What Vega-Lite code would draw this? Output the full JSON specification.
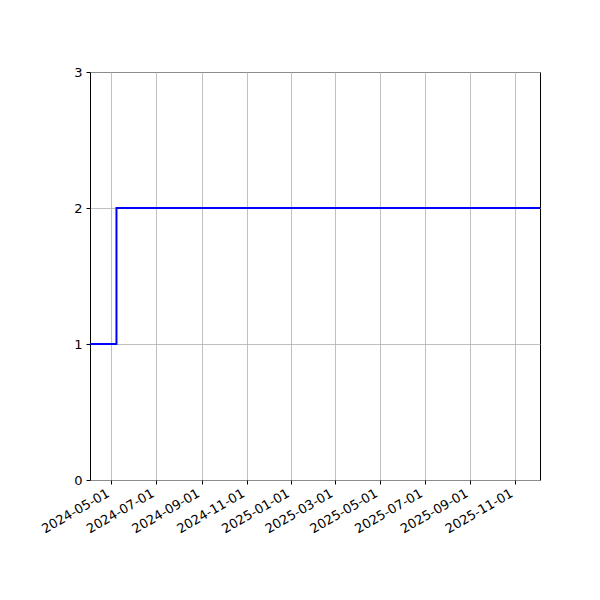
{
  "$schema": "https://vega.github.io/schema/vega-lite/v6.json",
  "width": 450,
  "height": 408,
  "autosize": {"type": "none"},
  "padding": {"left": 90, "top": 72, "right": 60, "bottom": 120},
  "background": "white",
  "data": {
    "values": [
      {"date": "2024-04-02", "value": 1},
      {"date": "2024-05-08", "value": 2},
      {"date": "2025-12-06", "value": 2}
    ]
  },
  "mark": {"type": "line", "interpolate": "step-after", "color": "#0000ff", "strokeWidth": 2, "clip": true},
  "encoding": {
    "x": {
      "field": "date",
      "type": "temporal",
      "title": null,
      "scale": {
        "type": "utc",
        "domain": [
          {"year": 2024, "month": 4, "date": 2, "utc": true},
          {"year": 2025, "month": 12, "date": 5, "utc": true}
        ]
      },
      "axis": {
        "values": [
          {"year": 2024, "month": 5, "date": 1, "utc": true},
          {"year": 2024, "month": 7, "date": 1, "utc": true},
          {"year": 2024, "month": 9, "date": 1, "utc": true},
          {"year": 2024, "month": 11, "date": 1, "utc": true},
          {"year": 2025, "month": 1, "date": 1, "utc": true},
          {"year": 2025, "month": 3, "date": 1, "utc": true},
          {"year": 2025, "month": 5, "date": 1, "utc": true},
          {"year": 2025, "month": 7, "date": 1, "utc": true},
          {"year": 2025, "month": 9, "date": 1, "utc": true},
          {"year": 2025, "month": 11, "date": 1, "utc": true}
        ],
        "format": "%Y-%m-%d",
        "labelAngle": -30,
        "labelAlign": "right",
        "labelBaseline": "bottom",
        "labelPadding": 14,
        "labelOverlap": false,
        "labelFlush": false
      }
    },
    "y": {
      "field": "value",
      "type": "quantitative",
      "title": null,
      "scale": {"domain": [0, 3], "nice": false},
      "axis": {"values": [0, 1, 2, 3], "format": "d", "labelPadding": 4}
    }
  },
  "config": {
    "view": {"stroke": "black", "strokeWidth": 1},
    "axis": {
      "grid": true,
      "gridColor": "#b0b0b0",
      "gridWidth": 0.8,
      "gridOpacity": 1,
      "domain": false,
      "tickColor": "black",
      "tickSize": 4,
      "tickWidth": 1,
      "labelFont": "DejaVu Sans",
      "labelFontSize": 13,
      "labelColor": "black"
    }
  }
}
